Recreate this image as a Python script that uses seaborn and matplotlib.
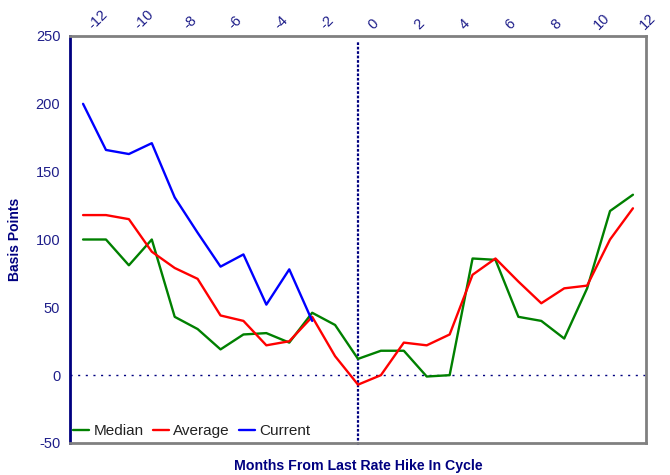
import matplotlib
matplotlib.use("Agg")
import matplotlib.pyplot as plt
import matplotlib.transforms as mtransforms
import seaborn as sns
import pandas as pd
import numpy as np

months = list(range(-12, 13))
median = [100, 100, 81, 100, 43, 34, 19, 30, 31, 24, 46, 37, 12, 18, 18, -1, 0, 86, 85, 43, 40, 27, 64, 121, 133]
average = [118, 118, 115, 91, 79, 71, 44, 40, 22, 25, 43, 14, -7, 0, 24, 22, 30, 74, 86, 69, 53, 64, 66, 100, 123]
current_months = list(range(-12, -1))
current = [200, 166, 163, 171, 131, 105, 80, 89, 52, 78, 40]
top_ticks = list(range(-12, 13, 2))
y_ticks = [-50, 0, 50, 100, 150, 200, 250]

df = pd.concat([
    pd.DataFrame({"Month": months, "Value": median, "Series": "Median"}),
    pd.DataFrame({"Month": months, "Value": average, "Series": "Average"}),
    pd.DataFrame({"Month": current_months, "Value": current, "Series": "Current"}),
], ignore_index=True)

sns.set_style("white")
plt.rcParams["font.family"] = ["Liberation Sans", "DejaVu Sans"]

navy = "#000080"
tick_col = "#1f1f8a"
gray = "#808080"

fig = plt.figure(figsize=(6.7, 4.75), dpi=100)
ax = fig.add_axes([70/670, 1-443/475, (646-70)/670, (443-36)/475])

palette = {"Median": "#008000", "Average": "#ff0000", "Current": "#0000ff"}
sns.lineplot(data=df, x="Month", y="Value", hue="Series", palette=palette,
             linewidth=1.7, ax=ax, legend=True, sort=True)

ax.set_xlim(-12.57, 12.57)
ax.set_ylim(-50, 250)

# zero line and vertical line at month 0
ax.axhline(0, color=navy, linewidth=1.0, linestyle=(0, (1.5, 4)), zorder=1)
ax.vlines(0, -51.6, 246, colors=navy, linewidth=1.6, linestyles=(0, (1.2, 0.8)),
          clip_on=False, zorder=1)

# spines
for s in ["top", "bottom", "right"]:
    ax.spines[s].set_color(gray)
    ax.spines[s].set_linewidth(2)
ax.spines["left"].set_color(navy)
ax.spines["left"].set_linewidth(2)

ax.set_yticks(y_ticks)
ax.set_yticklabels([str(v) for v in y_ticks])
ax.tick_params(axis="y", direction="out", length=4, width=1.5, color=navy,
               labelcolor=tick_col, labelsize=10.5, pad=3)

ax.xaxis.tick_top()
ax.set_xticks(top_ticks)
ax.set_xticklabels([str(v) for v in top_ticks])
ax.tick_params(axis="x", length=0, labelcolor=tick_col, labelsize=10.5, pad=3)
offset = mtransforms.ScaledTranslation(15/100, 0, fig.dpi_scale_trans)
for lab in ax.get_xticklabels():
    lab.set_rotation(45)
    lab.set_ha("center")
    lab.set_va("bottom")
    lab.set_transform(lab.get_transform() + offset)

ax.set_xlabel("")
ax.set_ylabel("Basis Points", fontsize=10, fontweight="bold", color=navy, labelpad=10)
fig.text(358/670, 1-466/475, "Months From Last Rate Hike In Cycle", ha="center", va="center",
         fontsize=10.2, fontweight="bold", color=navy)

handles, labels = ax.get_legend_handles_labels()
leg = ax.legend(handles, labels, loc="lower left", ncol=3, frameon=False,
                fontsize=11, handlelength=1.05, handletextpad=0.28, columnspacing=0.6,
                borderaxespad=0.2, bbox_to_anchor=(-0.01, -0.01))
for t in leg.get_texts():
    t.set_color("#222222")

fig.savefig("out.png", dpi=100)
